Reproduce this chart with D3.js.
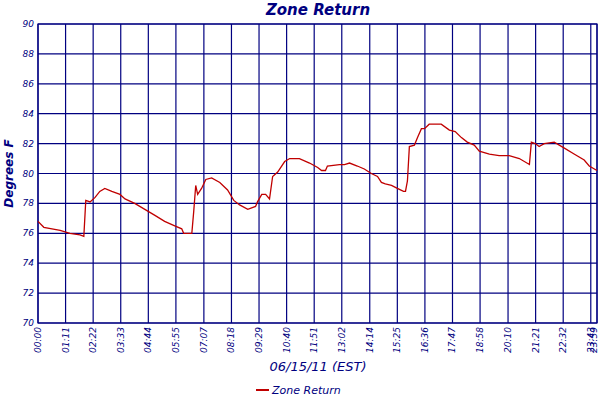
<!DOCTYPE html><html><head><script src="https://cdn.jsdelivr.net/npm/d3@7"></script>
<style>body{margin:0;background:#fff}text{font-family:"DejaVu Sans",sans-serif;font-style:italic;fill:#000080}</style></head><body><svg id="c" width="600" height="400"></svg><script>
const minutes=[0,15,57,82,108,118,123,134,147,159,172,190,211,224,249,275,301,326,352,370,375,396,401,406,411,421,432,447,468,488,504,519,540,560,565,576,586,596,604,617,635,648,673,699,720,730,740,745,776,789,802,822,840,858,874,884,894,910,925,941,946,951,956,969,977,987,995,1007,1038,1059,1074,1090,1105,1123,1136,1162,1187,1213,1239,1265,1270,1280,1290,1303,1329,1355,1380,1406,1419,1439];
const temps=[76.8,76.4,76.2,76.0,75.9,75.8,78.2,78.1,78.4,78.8,79.0,78.8,78.6,78.3,78.0,77.6,77.2,76.8,76.5,76.3,76.0,76.0,77.5,79.2,78.6,79.0,79.6,79.7,79.4,78.9,78.2,77.9,77.6,77.8,78.1,78.6,78.6,78.3,79.8,80.1,80.8,81.0,81.0,80.7,80.4,80.2,80.2,80.5,80.6,80.6,80.7,80.5,80.3,80.0,79.8,79.4,79.3,79.2,79.0,78.8,78.8,79.5,81.8,81.9,82.4,83.0,83.0,83.3,83.3,82.9,82.8,82.4,82.1,81.9,81.5,81.3,81.2,81.2,81.0,80.6,82.1,82.0,81.8,82.0,82.1,81.7,81.3,80.9,80.5,80.2];
const xLabels=["00:00","01:11","02:22","03:33","04:44","05:55","07:07","08:18","09:29","10:40","11:51","13:02","14:14","15:25","16:36","17:47","18:58","20:10","21:21","22:32","23:43","23:59"];
const yTicks=[70,72,74,76,78,80,82,84,86,88,90];
const svg=d3.select("#c"),L=38,R=597,T=24,B=323;
const x=d3.scaleLinear().domain([0,1439]).range([L,R]);
const y=d3.scaleLinear().domain([70,90]).range([B,T]);
const tv=xLabels.map(s=>{const[h,m]=s.split(":");return +h*60+ +m;});
const g=svg.append("g");
g.selectAll(".v").data(tv).enter().append("line").attr("x1",d=>x(d)).attr("x2",d=>x(d)).attr("y1",T).attr("y2",B).attr("stroke","#000080").attr("stroke-width",1.2);
g.selectAll(".h").data(yTicks).enter().append("line").attr("x1",L).attr("x2",R).attr("y1",d=>y(d)).attr("y2",d=>y(d)).attr("stroke","#000080").attr("stroke-width",1.2);
g.append("rect").attr("x",L).attr("y",T).attr("width",R-L).attr("height",B-T).attr("fill","none").attr("stroke","#000080").attr("stroke-width",1.2);
svg.selectAll(".yl").data(yTicks).enter().append("text").attr("x",L-4).attr("y",d=>y(d)+3).attr("text-anchor","end").attr("font-size",9).text(d=>d);
svg.selectAll(".xl").data(xLabels).enter().append("text").attr("transform",(d,i)=>`translate(${Math.min(x(tv[i])+3,597)},${B+4}) rotate(-90)`).attr("text-anchor","end").attr("font-size",9).text(d=>d);
const data=minutes.map((m,i)=>[m,temps[i]]);
svg.append("path").datum(data).attr("d",d3.line().x(d=>x(d[0])).y(d=>y(d[1]))).attr("fill","none").attr("stroke","#c00000").attr("stroke-width",1.3);
svg.append("text").attr("x",318).attr("y",15).attr("text-anchor","middle").attr("font-size",15).attr("font-weight","bold").text("Zone Return");
svg.append("text").attr("transform",`translate(13,${(T+B)/2}) rotate(-90)`).attr("text-anchor","middle").attr("font-size",12).attr("font-weight","bold").text("Degrees F");
svg.append("text").attr("x",318).attr("y",371).attr("text-anchor","middle").attr("font-size",13).text("06/15/11 (EST)");
svg.append("line").attr("x1",256).attr("x2",269).attr("y1",390).attr("y2",390).attr("stroke","#c00000").attr("stroke-width",2);
svg.append("text").attr("x",272).attr("y",394).attr("font-size",11).text("Zone Return");
</script></body></html>
